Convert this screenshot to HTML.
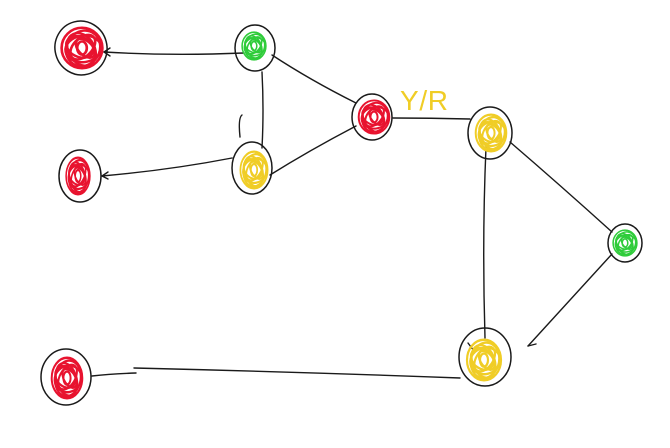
<!DOCTYPE html>
<html><head><meta charset="utf-8"><style>
html,body{margin:0;padding:0;background:#fff;width:670px;height:448px;overflow:hidden}
</style></head><body>
<svg width="670" height="448" viewBox="0 0 670 448" xmlns="http://www.w3.org/2000/svg" fill="none" stroke-linecap="round" stroke-linejoin="round">
<defs>
<g id="scrib">
<ellipse cx="0" cy="0" rx="0.85" ry="0.92"/>
<ellipse cx="0.05" cy="0" rx="0.7" ry="0.82" transform="rotate(20)"/>
<ellipse cx="-0.05" cy="0.05" rx="0.55" ry="0.78" transform="rotate(-25)"/>
<ellipse cx="0" cy="-0.05" rx="0.4" ry="0.65" transform="rotate(40)"/>
<ellipse cx="0.05" cy="0.05" rx="0.75" ry="0.6" transform="rotate(-10)"/>
<ellipse cx="-0.1" cy="0" rx="0.6" ry="0.45" transform="rotate(30)"/>
<ellipse cx="0.1" cy="0.1" rx="0.3" ry="0.5" transform="rotate(-40)"/>
<ellipse cx="0" cy="0" rx="0.2" ry="0.3"/>
</g>
</defs>
<g stroke="#1a1a1a" stroke-width="1.4">
<path d="M104 52 Q170 56 244 53"/>
<path d="M104 52 l6 -4 M104 52 l6 4"/>
<path d="M272 55 Q310 80 356 103"/>
<path d="M262 148 Q264 110 262 72"/>
<path d="M240 137 Q238 118 242 115"/>
<path d="M270 175 Q310 150 356 126"/>
<path d="M232 158 Q170 170 102 176"/>
<path d="M102 176 l6 -4 M102 176 l6 3"/>
<path d="M393 118 Q430 118 470 119"/>
<path d="M486 147 Q482 240 485 338"/>
<path d="M510 142 Q560 185 612 232"/>
<path d="M612 254 Q570 300 528 346"/>
<path d="M528 346 l8 -2"/>
<path d="M92 376 Q110 374 136 373 M134 368 Q300 372 460 378"/>
<path d="M468 343 l6 8"/>
</g>
<g stroke="#1a1a1a" stroke-width="1.5">
<ellipse cx="81" cy="48" rx="26" ry="27" transform="rotate(-15 81 48)"/>
<ellipse cx="255" cy="48" rx="20" ry="23"/>
<ellipse cx="80" cy="176" rx="21" ry="26"/>
<ellipse cx="252" cy="168" rx="20" ry="26"/>
<ellipse cx="372" cy="117" rx="20" ry="23"/>
<ellipse cx="490" cy="133" rx="22" ry="26"/>
<ellipse cx="625" cy="243" rx="17" ry="19"/>
<ellipse cx="485" cy="357" rx="26" ry="29"/>
<ellipse cx="66" cy="377" rx="25" ry="28"/>
</g>
<g stroke="#e8132f" stroke-width="0.11">
<use href="#scrib" transform="translate(82 48) scale(24 22)"/>
<use href="#scrib" transform="translate(78 176) scale(14 20)"/>
<use href="#scrib" transform="translate(374 117) scale(18 18)"/>
<use href="#scrib" transform="translate(67 378) scale(18 22)"/>
</g>
<g stroke="#2fcc3a" stroke-width="0.11">
<use href="#scrib" transform="translate(254 46) scale(14 15)"/>
<use href="#scrib" transform="translate(625 243) scale(14 14)"/>
</g>
<g stroke="#f0cd26" stroke-width="0.11">
<use href="#scrib" transform="translate(254 170) scale(16 20)"/>
<use href="#scrib" transform="translate(491 133) scale(18 20)"/>
<use href="#scrib" transform="translate(484 360) scale(20 22)"/>
</g>
<text x="400" y="110" font-family="Liberation Sans, sans-serif" font-size="28" fill="#f0cd26" font-weight="normal" textLength="48" style="font-weight:300">Y/R</text>
</svg>
</body></html>
